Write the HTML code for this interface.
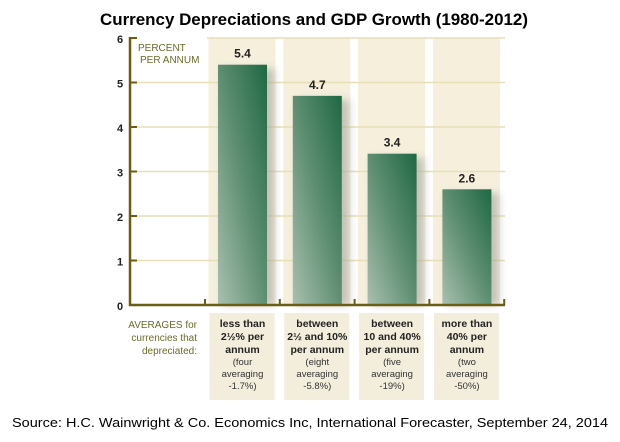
<!DOCTYPE html>
<html><head><meta charset="utf-8"><style>
body{margin:0;background:#fff;width:620px;height:437px;overflow:hidden;font-family:"Liberation Sans",sans-serif}
</style></head><body>
<svg width="620" height="437" viewBox="0 0 620 437">
<defs>
<linearGradient id="g" x1="0" y1="1" x2="1" y2="0">
<stop offset="0" stop-color="#a9c0b0"/><stop offset="0.5" stop-color="#5f8f72"/><stop offset="1" stop-color="#1f6844"/>
</linearGradient>
<filter id="sh" x="-30%" y="-10%" width="160%" height="120%"><feGaussianBlur stdDeviation="4"/></filter>
</defs>
<text x="314" y="25" text-anchor="middle" font-size="17" font-weight="bold" fill="#000" textLength="428" lengthAdjust="spacingAndGlyphs">Currency Depreciations and GDP Growth (1980-2012)</text>
<g id="bgcols"></g>
<g id="grid"></g>
<g id="bars"></g>
<g id="axis"></g>
<text x="138" y="51" font-size="10" fill="#6b6b2a">PERCENT</text>
<text x="140" y="63" font-size="10" fill="#6b6b2a">PER ANNUM</text>
<g font-size="10" fill="#6b6b2a" text-anchor="end">
<text x="197" y="328">AVERAGES for</text>
<text x="197" y="341">currencies that</text>
<text x="197" y="354">depreciated:</text>
</g>
<g id="cats"></g>
<text x="12" y="427" font-size="13" fill="#000" textLength="596" lengthAdjust="spacingAndGlyphs">Source: H.C. Wainwright &amp; Co. Economics Inc, International Forecaster, September 24, 2014</text>
</svg>
<script>
const categories=["less than 2½%","2½ to 10%","10 to 40%","more than 40%"];
const values=[5.4,4.7,3.4,2.6];
const valueLabels=["5.4","4.7","3.4","2.6"];
const yTicks=[0,1,2,3,4,5,6];
const catLines=[["less than","2½% per","annum"],["between","2½ and 10%","per annum"],["between","10 and 40%","per annum"],["more than","40% per","annum"]];
const catNotes=[["(four","averaging","-1.7%)"],["(eight","averaging","-5.8%)"],["(five","averaging","-19%)"],["(two","averaging","-50%)"]];
const NS="http://www.w3.org/2000/svg";
const y=v=>305-v*44.5;
const cx=i=>242.5+i*74.8;
function mk(t,a,p){const e=document.createElementNS(NS,t);for(const k in a)e.setAttribute(k,a[k]);p.appendChild(e);return e;}
const bg=document.getElementById('bgcols'),gr=document.getElementById('grid'),bs=document.getElementById('bars'),ax=document.getElementById('axis'),ct=document.getElementById('cats');
categories.forEach((c,i)=>{
 const r=mk('rect',{x:cx(i)-34,y:y(6),width:67,height:y(0)-y(6),fill:'#f5efdc'},bg);
 
 
 const lb=mk('rect',{x:cx(i)-33,y:313,width:65,height:87,fill:'#f3eedb'},bg);
 
 
});
yTicks.forEach(t=>{
 if(t>0){const l=mk('line',{x1:130,x2:505,y1:y(t),y2:y(t),stroke:'#e6dfb8','stroke-width':1.5},gr);
 
 }
 const tk=mk('line',{x1:130,x2:137,y1:y(t),y2:y(t),stroke:'#6b5d12','stroke-width':2},ax);
 
 
 const tx=mk('text',{x:120,y:y(t)+5,'font-size':11,'font-weight':'bold','text-anchor':'middle',fill:'#222'},ax);
 tx.textContent=t;
 
 
});
mk('rect',{x:137,y:y(6)-2,width:70,height:40,fill:'#fff'},gr);
values.forEach((v,i)=>{
 const s=mk('rect',{x:cx(i)-20,y:y(v)+4,width:52,height:y(0)-y(v)-4,fill:'#8a8a8a',opacity:0.45,filter:'url(#sh)'},bs);
 const b=mk('rect',{x:cx(i)-24.5,y:y(v),width:49,height:y(0)-y(v),fill:'url(#g)'},bs);
 
 
 const t=mk('text',{x:cx(i),y:y(v)-7,'font-size':12,'font-weight':'bold','text-anchor':'middle',fill:'#222'},bs);
 t.textContent=valueLabels[i];
 
 
 catLines[i].forEach((s2,j)=>{const e=mk('text',{x:cx(i),y:327+j*13,'font-size':10.5,'font-weight':'bold','text-anchor':'middle',fill:'#222'},ct);e.textContent=s2;
 
 });
 catNotes[i].forEach((s2,j)=>{const e=mk('text',{x:cx(i),y:365+j*12,'font-size':9.5,'text-anchor':'middle',fill:'#333'},ct);e.textContent=s2;
 
 });
});
const ya=mk('line',{x1:130,x2:130,y1:y(6)-1,y2:y(0)+1,stroke:'#6b5d12','stroke-width':2.5},ax);


const xa=mk('line',{x1:129,x2:505,y1:y(0),y2:y(0),stroke:'#6b5d12','stroke-width':2.5},ax);


[0,1,2,3,4].forEach(k=>{const t=mk('line',{x1:205+k*74.8,x2:205+k*74.8,y1:y(0),y2:y(0)-6,stroke:'#6b5d12','stroke-width':2},ax);
 
 });
</script>
</body></html>
